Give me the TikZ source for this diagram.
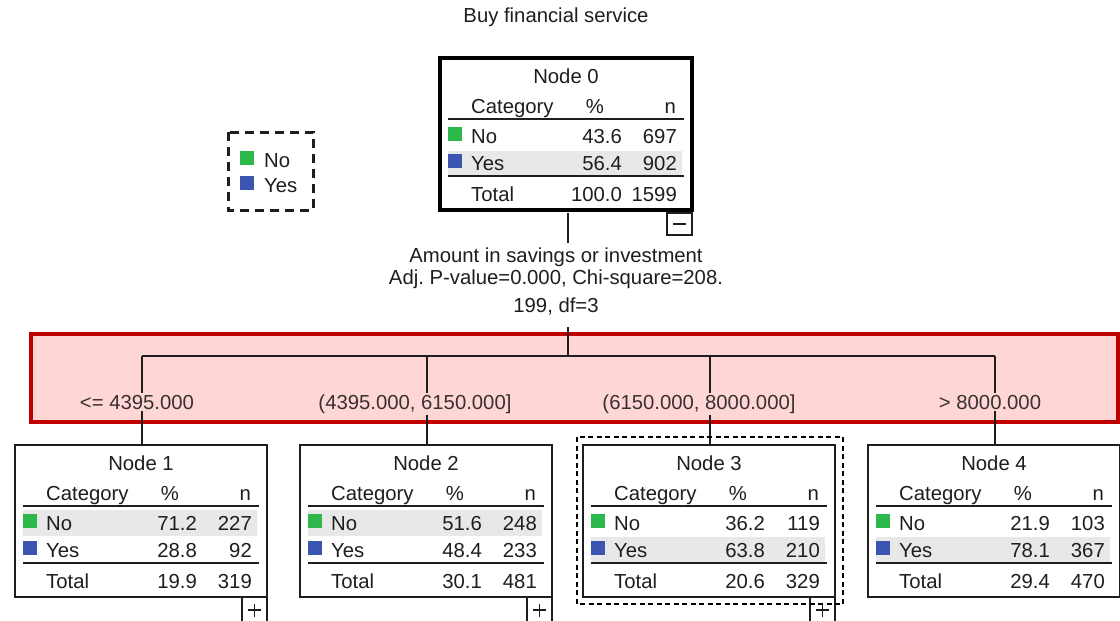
\documentclass[tikz,border=0pt]{standalone}
\usepackage{fontspec}
\setmainfont{Liberation Sans}
\frenchspacing
\definecolor{gno}{HTML}{2DB84B}
\definecolor{gyes}{HTML}{3C55B0}
\definecolor{hlgray}{HTML}{E8E8E8}
\definecolor{bandred}{HTML}{C00000}
\definecolor{bandpink}{HTML}{FFD6D6}
\definecolor{txt}{HTML}{1E1E1E}
\definecolor{ltxt}{HTML}{3A3030}
\tikzset{
  cell/.style={font=\fontsize{20.3}{22}\selectfont, inner sep=0pt, text=txt},
  sq/.style={minimum size=14pt, inner sep=0pt, draw=none},
  rule/.style={line width=1.3pt, draw=txt},
  tbox/.style={draw=txt, line width=1.2pt, minimum width=252pt, minimum height=152pt, inner sep=0pt, outer sep=0pt, anchor=north west},
  conn/.style={line width=1.2pt, draw=txt},
  blabel/.style={font=\fontsize{20.3}{22}\selectfont, inner sep=1.5pt, text=ltxt, fill=bandpink, anchor=base},
}
\newcommand\hlrow[3]{\fill[hlgray] (#1+8,#2+#3) rectangle (#1+242,#2+#3+26);}
\newcommand\tnode[9]{%
 \begin{scope}[shift={(#2,#3)}]
  \node[tbox] (n#1) at (0,0) {};
  \node[cell, anchor=base] (t#1) at (126,25) {Node #1};
  \node[cell, anchor=base west] (c#1) at (31,55) {Category};
  \node[cell, anchor=base] (p#1) at (155,55) {\%};
  \node[cell, anchor=base east] (h#1) at (236,55) {n};
  \draw[rule] (8,61) -- (244,61);
  \node[sq, fill=gno] (sa#1) at (15,76) {};
  \node[cell, anchor=base west] (la#1) at (31,85) {No};
  \node[cell, anchor=base east] (pa#1) at (182,85) {#4};
  \node[cell, anchor=base east] (na#1) at (237,85) {#5};
  \node[sq, fill=gyes] (sb#1) at (15,103) {};
  \node[cell, anchor=base west] (lb#1) at (31,112) {Yes};
  \node[cell, anchor=base east] (pb#1) at (182,112) {#6};
  \node[cell, anchor=base east] (nb#1) at (237,112) {#7};
  \draw[rule] (8,118) -- (244,118);
  \node[cell, anchor=base west] (lt#1) at (31,143) {Total};
  \node[cell, anchor=base east] (pt#1) at (182,143) {#8};
  \node[cell, anchor=base east] (nt#1) at (237,143) {#9};
 \end{scope}}
\newcommand\plusbox[2]{%
  \draw[conn] (#1+227,#2+152) -- (#1+227,#2+180);
  \draw[conn] (#1+252,#2+152) -- (#1+252,#2+180);
  \draw[line width=1.3pt, draw=txt] (#1+233,#2+165) -- (#1+246,#2+165) (#1+239.5,#2+158.5) -- (#1+239.5,#2+171.5);}
\begin{document}
\begin{tikzpicture}[x=1pt,y=-1pt]
\useasboundingbox[fill=white] (0,0) rectangle (1120,621);
% title
\node[cell, anchor=base] (title) at (556,22) {Buy financial service};
% legend
\draw[line width=3pt, dash pattern=on 9pt off 6pt, draw=txt] (228,132) rectangle (313,210);
\node[sq, fill=gno] (lgno) at (247,158) {};
\node[cell, anchor=base west] (lgnot) at (264,167) {No};
\node[sq, fill=gyes] (lgyes) at (247,183) {};
\node[cell, anchor=base west] (lgyest) at (264,192) {Yes};
% band
\draw[line width=4pt, draw=bandred, fill=bandpink] (31,334) rectangle (1118,422);
% node 0
\hlrow{440}{58}{93}
\tnode{0}{440}{58}{43.6}{697}{56.4}{902}{100.0}{1599}
\draw[line width=3.5pt, draw=black] (n0.north west) rectangle (n0.south east);
\draw[conn] (667,213) rectangle (692,235);
\draw[line width=1.3pt, draw=txt] (673,224) -- (686,224);
% split label
\node[cell, align=center, anchor=north] (split) at (556,248) {Amount in savings or investment\\Adj. P-value=0.000, Chi-square=208.\\[6pt]199, df=3};
\coordinate (jn) at (568,356);
\draw[conn] (568,213) -- (568,243);
\draw[conn] (568,327) -- (jn);
% children
\hlrow{15}{445}{65}
\tnode{1}{15}{445}{71.2}{227}{28.8}{92}{19.9}{319}
\hlrow{300}{445}{65}
\tnode{2}{300}{445}{51.6}{248}{48.4}{233}{30.1}{481}
\hlrow{583}{445}{92}
\tnode{3}{583}{445}{36.2}{119}{63.8}{210}{20.6}{329}
\hlrow{868}{445}{92}
\tnode{4}{868}{445}{21.9}{103}{78.1}{367}{29.4}{470}
\foreach \k in {1,2,3,4}{\draw[line width=2.4pt, draw=txt] (n\k.north east) -- (n\k.south east);}
\plusbox{15}{445}
\plusbox{300}{445}
\plusbox{583}{445}
% connectors
\coordinate (b1) at (142,356);
\coordinate (b2) at (427,356);
\coordinate (b3) at (710,356);
\coordinate (b4) at (995,356);
\draw[conn] (b1) -- (b4);
\draw[conn] (b1) -- (b1 |- n1.north);
\draw[conn] (b2) -- (b2 |- n2.north);
\draw[conn] (b3) -- (b3 |- n3.north);
\draw[conn] (b4) -- (b4 |- n4.north);
\node[blabel] (l1) at (137,409) {<= 4395.000};
\node[blabel] (l2) at (415,409) {(4395.000, 6150.000]};
\node[blabel] (l3) at (699,409) {(6150.000, 8000.000]};
\node[blabel] (l4) at (990,409) {> 8000.000};
% selection
\draw[line width=2.5pt, dash pattern=on 5pt off 3.5pt, draw=black] (577,437) rectangle (843,604);
\end{tikzpicture}
\end{document}
